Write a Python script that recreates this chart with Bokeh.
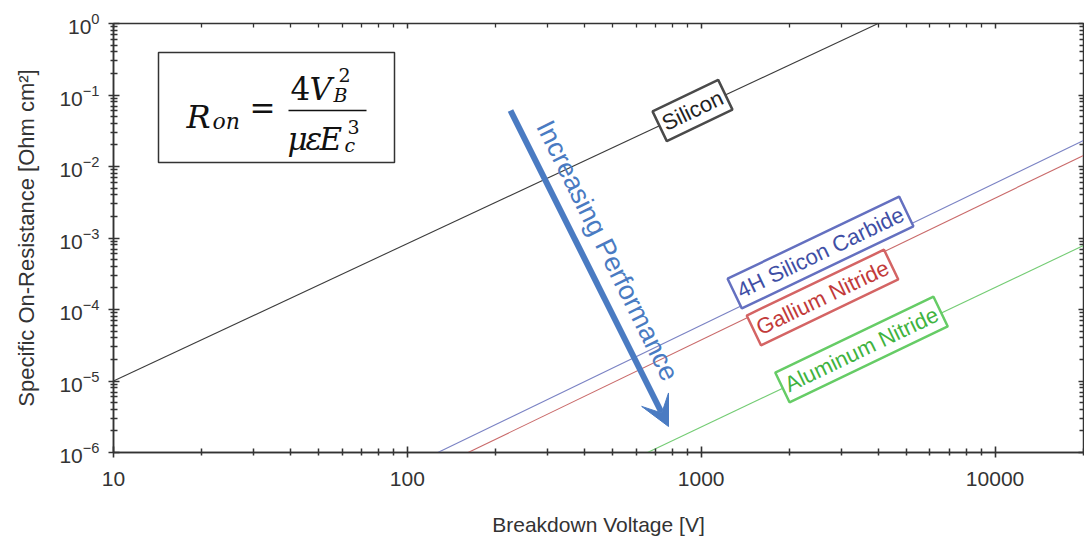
import math
from bokeh.plotting import figure
from bokeh.models import (Range1d, FixedTicker, LogAxis, Label, BoxAnnotation, Arrow, VeeHead,
                          NumeralTickFormatter, LogTickFormatter)
from bokeh.embed import file_html
from bokeh.resources import INLINE

# ---- data ----
materials = ["Silicon", "4H Silicon Carbide", "Gallium Nitride", "Aluminum Nitride"]
si_v = [10, 4000]
si_r = [1e-5, 1.0]
sic_v = [127, 20000]
sic_r = [1e-6, 0.0231]
gan_v = [161, 20000]
gan_r = [1e-6, 0.0143]
aln_v = [657, 20000]
aln_r = [1e-6, 7.85e-4]
x_ticks = [10, 100, 1000, 10000]
y_ticks = [1e-6, 1e-5, 1e-4, 1e-3, 1e-2, 1e-1, 1]

XL, XR = 10, 20000
YB, YT = 1e-6, 1

# page-pixel -> data helpers for annotation placement
FL, FR, FT, FB = 113, 1083, 23, 452
def xd(px):
    return 10 ** (math.log10(XL) + (px - FL) / (FR - FL) * math.log10(XR / XL))
def yd(py):
    return 10 ** (math.log10(YB) + (FB - py) / (FB - FT) * math.log10(YT / YB))

FONT = "Liberation Sans"
AX = "#333333"

p = figure(width=1084, height=540, x_axis_type="log", y_axis_type="log",
           x_range=Range1d(XL, XR), y_range=Range1d(YB, YT),
           output_backend="svg", toolbar_location=None,
           min_border_left=FL, min_border_right=1084 - FR, min_border_top=FT,
           min_border_bottom=540 - FB)
p.grid.visible = False
p.outline_line_color = AX
p.outline_line_width = 1.5
p.background_fill_color = "white"

x_minor = [m * 10 ** e for e in range(1, 5) for m in range(2, 10) if m * 10 ** e <= XR]
y_minor = [m * 10.0 ** e for e in range(-6, 0) for m in range(2, 10)]
xt = FixedTicker(ticks=x_ticks, minor_ticks=x_minor)
yt = FixedTicker(ticks=y_ticks, minor_ticks=y_minor)

p.xaxis.ticker = xt
p.yaxis.ticker = yt
p.xaxis.formatter = NumeralTickFormatter(format="0")
p.yaxis.formatter = LogTickFormatter()

for ax in (p.xaxis[0], p.yaxis[0]):
    ax.axis_line_color = AX
    ax.axis_line_width = 1.5
    ax.major_tick_line_color = AX
    ax.minor_tick_line_color = AX
    ax.major_tick_line_width = 1.6
    ax.minor_tick_line_width = 1.5
    ax.major_tick_in = 6
    ax.major_tick_out = 5
    ax.minor_tick_in = 4
    ax.minor_tick_out = 3
    ax.major_label_text_font = FONT
    ax.major_label_text_font_size = "21px"
    ax.major_label_text_color = "#333333"
    ax.axis_label_text_font = FONT
    ax.axis_label_text_font_size = "21px"
    ax.axis_label_text_font_style = "normal"
    ax.axis_label_text_color = "#333333"

p.xaxis.axis_label = "Breakdown Voltage [V]"
p.xaxis.major_label_standoff = 14
p.xaxis.axis_label_standoff = 24
p.yaxis.axis_label = "Specific On-Resistance [Ohm cm\u00b2]"
p.yaxis.axis_label_text_font_size = "22px"
p.yaxis.major_label_standoff = 9
p.yaxis.axis_label_standoff = 17

for side, tk in (("right", yt), ("above", xt)):
    a = LogAxis(ticker=tk, formatter=NumeralTickFormatter(format="0"),
                major_label_text_font_size="1px", major_label_text_alpha=0.0,
                major_label_standoff=0,
                major_tick_in=5, major_tick_out=0, minor_tick_in=4, minor_tick_out=0,
                major_tick_line_width=1.5, minor_tick_line_width=1.3,
                axis_line_color=AX, major_tick_line_color=AX, minor_tick_line_color=AX)
    p.add_layout(a, side)

# ---- lines ----
p.line(si_v, si_r, line_color="#3c3c3c", line_width=1.1)
p.line(sic_v, sic_r, line_color="#7b83c4", line_width=1.1)
p.line(gan_v, gan_r, line_color="#c96a6a", line_width=1.1)
p.line(aln_v, aln_r, line_color="#74cc74", line_width=1.1)

# ---- line labels ----
label_specs = [
    (materials[0], 692, 110, "#222222", "#4a4a4a"),
    (materials[1], 820, 252, "#3f4fa5", "#6470c0"),
    (materials[2], 822, 297, "#c23a3a", "#d46464"),
    (materials[3], 861, 349, "#3fb33f", "#66cc66"),
]
for txt, px, py, tc, bc in label_specs:
    p.add_layout(Label(x=xd(px), y=yd(py), text=txt, angle=25.6, angle_units="deg",
                       text_align="center", text_baseline="middle",
                       text_font=FONT, text_font_size="22px", text_color=tc,
                       background_fill_color="white", background_fill_alpha=1.0,
                       border_line_color=bc, border_line_width=2.5, padding=4))

# ---- arrow ----
BLUE = "#4a7bc2"
p.add_layout(Arrow(end=VeeHead(size=30, fill_color=BLUE, line_color=BLUE),
                   x_start=xd(510), y_start=yd(110), x_end=xd(668), y_end=yd(426),
                   line_color=BLUE, line_width=6))
p.add_layout(Label(x=xd(607), y=yd(250), text="Increasing Performance", angle=-63.6,
                   angle_units="deg", text_align="center", text_baseline="middle",
                   text_font=FONT, text_font_size="27px", text_color=BLUE))

# ---- formula box ----
p.add_layout(BoxAnnotation(left=xd(158), right=xd(394), top=yd(52), bottom=yd(162),
                           fill_color="white", fill_alpha=1.0, line_color="#333333",
                           line_alpha=1.0, line_width=1.5, level="underlay"))
SERIF = "DejaVu Serif"
formula = [
    ("R", 186, 116, 32, "italic"),
    ("on", 212, 121, 22, "italic"),
    ("=", 249, 107, 31, "normal"),
    ("4", 290, 88, 31, "normal"),
    ("V", 309, 88, 31, "italic"),
    ("B", 333, 94, 19, "italic"),
    ("2", 338, 74, 19, "normal"),
    ("\u03bc", 287, 138, 31, "italic"),
    ("\u03b5", 305, 138, 31, "italic"),
    ("E", 319, 138, 31, "italic"),
    ("c", 344, 144, 19, "italic"),
    ("3", 347, 126, 19, "normal"),
]
for txt, px, py, sz, st in formula:
    p.add_layout(Label(x=xd(px), y=yd(py), text=txt, text_align="left",
                       text_baseline="alphabetic", text_font=SERIF,
                       text_font_size=f"{sz}px", text_font_style=st, text_color="#111111"))
p.segment(x0=[xd(288)], y0=[yd(110)], x1=[xd(366)], y1=[yd(110)],
          line_color="#111111", line_width=1.6)

open("out.html", "w").write(file_html(p, INLINE))
